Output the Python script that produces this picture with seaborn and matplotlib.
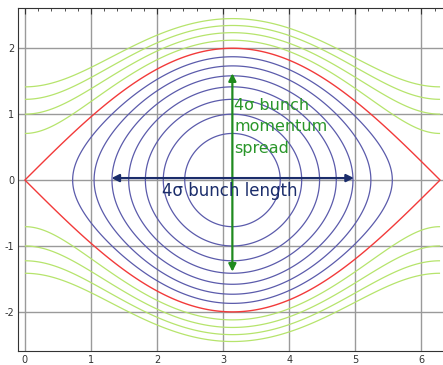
import numpy as np
import matplotlib
matplotlib.use("Agg")
import matplotlib.pyplot as plt
import seaborn as sns

# Hamiltonian levels H = p^2/2 + cos(phi)
inside_levels = [-0.75, -0.5, -0.25, 0.0, 0.25, 0.5, 0.75]   # closed orbits (blue)
separatrix_level = [1.0]                                      # red
outside_levels = [1.25, 1.5, 1.75, 2.0]                       # open orbits (green)

x_ticks = [0, 1, 2, 3, 4, 5, 6]
y_ticks = [-2, -1, 0, 1, 2]

# arrows (tail, head) in data units
spread_arrow = [(3.14, -1.39), (3.14, 1.62)]
length_arrow = [(1.31, 0.03), (4.98, 0.03)]

sns.set_theme(style="white")
plt.rcParams['font.family'] = ['DejaVu Sans']
plt.rcParams['axes.unicode_minus'] = False

fig = plt.figure(figsize=(4.43, 3.65), dpi=100)
ax = fig.add_axes([0.0413, 0.039, 0.965, 0.939])

phi = np.linspace(0, 2 * np.pi, 600)
p = np.linspace(-2.7, 2.7, 600)
PHI, P = np.meshgrid(phi, p)
H = P ** 2 / 2 + np.cos(PHI)

ax.contour(PHI, P, H, levels=inside_levels, colors='#5b5bab', linewidths=0.9,
           linestyles='solid')
ax.contour(PHI, P, H, levels=outside_levels, colors='#b6e46c', linewidths=0.9,
           linestyles='solid')
ax.contour(PHI, P, H, levels=separatrix_level, colors='#f23a3a', linewidths=1.0,
           linestyles='solid')

ax.set_xlim(-0.10, 6.37)
ax.set_ylim(-2.59, 2.61)
ax.set_xticks(x_ticks)
ax.set_yticks(y_ticks)
ax.set_xticks(np.arange(0, 6.4, 0.2), minor=True)
ax.set_yticks(np.arange(-2.4, 2.5, 0.2), minor=True)
ax.grid(True, which='major', color='#9a9a9a', linewidth=1.0)
ax.tick_params(which='both', direction='in', top=True, right=False, labelsize=7,
               colors='#333333', pad=3)
ax.tick_params(which='major', length=4, width=0.8)
ax.tick_params(which='minor', length=2, width=0.6)
for s in ax.spines.values():
    s.set_color('#333333')
    s.set_linewidth(0.8)

ax.annotate('', xy=spread_arrow[1], xytext=spread_arrow[0],
            arrowprops=dict(arrowstyle='<|-|>', color='#1f8a1f', lw=1.6,
                            mutation_scale=11, shrinkA=0, shrinkB=0))
ax.annotate('', xy=length_arrow[1], xytext=length_arrow[0],
            arrowprops=dict(arrowstyle='<|-|>', color='#1b2d6b', lw=1.6,
                            mutation_scale=11, shrinkA=0, shrinkB=0))

ax.text(3.17, 1.25, '4σ bunch\nmomentum\nspread', color='#2a962a', fontsize=11.5,
        va='top', ha='left', linespacing=1.55)
ax.text(2.07, -0.16, '4σ bunch length', color='#1b2d6b', fontsize=12,
        va='center', ha='left')

fig.savefig('out.png', dpi=100)
